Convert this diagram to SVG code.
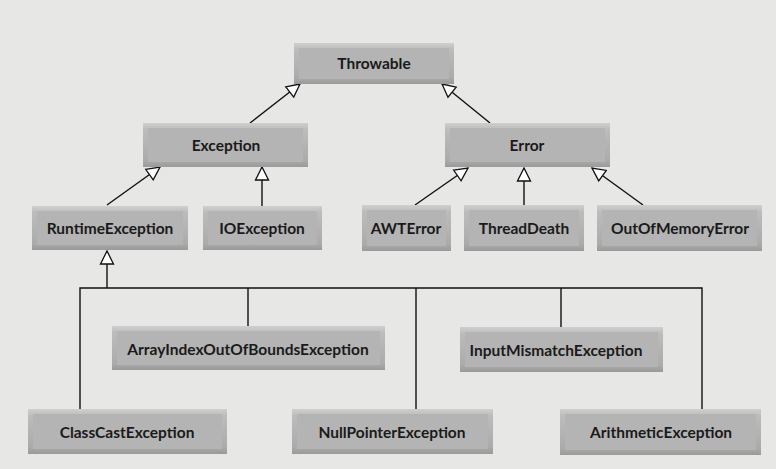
<svg xmlns="http://www.w3.org/2000/svg" width="776" height="469" viewBox="0 0 776 469">
<style>
.bg{fill:#e7e7e5}
.o{fill:url(#bev)}
.i{fill:#b4b4b4}
.t{font-family:Lato,"Open Sans","DejaVu Sans",sans-serif;font-weight:bold;font-size:15.5px;fill:#1a1a1a;text-anchor:middle;dominant-baseline:central}
.c{stroke:#111;stroke-width:1.4;fill:none}
.a{marker-end:url(#tri)}
</style>
<defs>
<linearGradient id="bev" x1="0" y1="0" x2="0" y2="1">
<stop offset="0" stop-color="#cfcfcf"/>
<stop offset="0.15" stop-color="#bcbcbc"/>
<stop offset="0.85" stop-color="#ababab"/>
<stop offset="1" stop-color="#9a9a9a"/>
</linearGradient>
<marker id="tri" markerUnits="userSpaceOnUse" markerWidth="16" markerHeight="16" refX="13" refY="6.5" orient="auto" viewBox="-1 -1 16 15">
<path d="M0,0 L13,6.5 L0,13 Z" fill="#fff" stroke="#111" stroke-width="1.3"/>
</marker>
</defs>
<rect class="bg" x="0" y="0" width="776" height="469"/>

<g id="connectors">
<line class="c a" x1="250" y1="123" x2="300" y2="84"/>
<line class="c a" x1="490" y1="123" x2="442" y2="84"/>
<line class="c a" x1="107" y1="205" x2="160" y2="167"/>
<line class="c a" x1="262" y1="206" x2="262" y2="167"/>
<line class="c a" x1="415" y1="205" x2="468" y2="168"/>
<line class="c a" x1="524" y1="205" x2="524" y2="168"/>
<line class="c a" x1="643" y1="205" x2="592" y2="168"/>
<line class="c a" x1="107" y1="288" x2="107" y2="251"/>
<polyline class="c" points="80,409 80,288 702,288 702,409"/>
<line class="c" x1="248" y1="288" x2="248" y2="326"/>
<line class="c" x1="416" y1="288" x2="416" y2="409"/>
<line class="c" x1="561" y1="288" x2="561" y2="327"/>
</g>

<g id="Throwable"><rect class="o" x="294" y="43" width="160" height="41"/><rect class="i" x="299" y="48" width="150" height="31"/><text class="t" x="374" y="63">Throwable</text></g>
<g id="Exception"><rect class="o" x="143" y="123" width="165" height="44"/><rect class="i" x="148" y="128" width="155" height="34"/><text class="t" x="226" y="145">Exception</text></g>
<g id="Error"><rect class="o" x="445" y="123" width="165" height="44"/><rect class="i" x="450" y="128" width="155" height="34"/><text class="t" x="527" y="145">Error</text></g>
<g id="RuntimeException"><rect class="o" x="32" y="206" width="156" height="44"/><rect class="i" x="37" y="211" width="146" height="34"/><text class="t" x="110" y="228">RuntimeException</text></g>
<g id="IOException"><rect class="o" x="203" y="206" width="119" height="44"/><rect class="i" x="208" y="211" width="109" height="34"/><text class="t" x="262" y="228">IOException</text></g>
<g id="AWTError"><rect class="o" x="362" y="205" width="89" height="46"/><rect class="i" x="367" y="210" width="79" height="36"/><text class="t" x="406" y="228">AWTError</text></g>
<g id="ThreadDeath"><rect class="o" x="464" y="205" width="120" height="46"/><rect class="i" x="469" y="210" width="110" height="36"/><text class="t" x="524" y="228">ThreadDeath</text></g>
<g id="OutOfMemoryError"><rect class="o" x="597" y="205" width="165" height="46"/><rect class="i" x="602" y="210" width="155" height="36"/><text class="t" x="680" y="228">OutOfMemoryError</text></g>
<g id="ArrayIndexOutOfBoundsException"><rect class="o" x="112" y="326" width="273" height="44"/><rect class="i" x="117" y="331" width="263" height="34"/><text class="t" x="248" y="349">ArrayIndexOutOfBoundsException</text></g>
<g id="InputMismatchException"><rect class="o" x="460" y="327" width="203" height="45"/><rect class="i" x="465" y="332" width="193" height="35"/><text class="t" x="556" y="350">InputMismatchException</text></g>
<g id="ClassCastException"><rect class="o" x="28" y="409" width="199" height="45"/><rect class="i" x="33" y="414" width="189" height="35"/><text class="t" x="127" y="432">ClassCastException</text></g>
<g id="NullPointerException"><rect class="o" x="292" y="409" width="201" height="45"/><rect class="i" x="297" y="414" width="191" height="35"/><text class="t" x="392" y="432">NullPointerException</text></g>
<g id="ArithmeticException"><rect class="o" x="560" y="409" width="201" height="46"/><rect class="i" x="565" y="414" width="191" height="36"/><text class="t" x="661" y="432">ArithmeticException</text></g>
</svg>
